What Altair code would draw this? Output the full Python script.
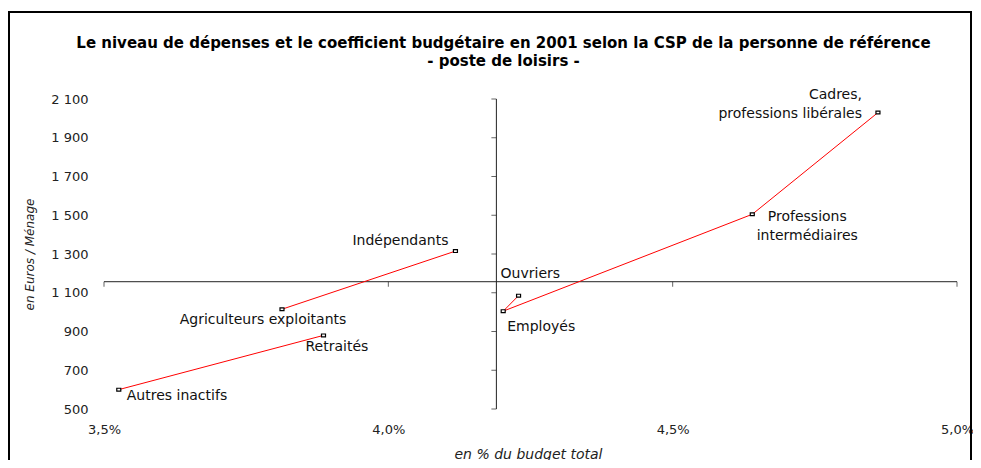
import altair as alt
import pandas as pd

# ---- data ----
categories = ["Autres inactifs", "Retraités", "Agriculteurs exploitants", "Indépendants",
              "Ouvriers", "Employés", "Professions intermédiaires", "Cadres, professions libérales"]
label_texts = ["Autres inactifs", "Retraités", "Agriculteurs exploitants", "Indépendants",
               "Ouvriers", "Employés", "Professions\nintermédiaires", "Cadres,\nprofessions libérales"]
budget_pct = [3.526, 3.886, 3.813, 4.118, 4.229, 4.202, 4.640, 4.861]
depenses = [600, 880, 1015, 1315, 1085, 1005, 1505, 2030]
series = ["a", "a", "b", "b", "c", "c", "c", "c"]
series_order = [0, 1, 0, 1, 0, 1, 2, 3]

x_ticks = [3.5, 4.0, 4.5, 5.0]
y_ticks = [500, 700, 900, 1100, 1300, 1500, 1700, 1900, 2100]
cross_x = 4.19
cross_y = 1157

title_lines = ["Le niveau de dépenses et le coefficient budgétaire en 2001 selon la CSP de la personne de référence",
               "- poste de loisirs -"]

# label placement styles (align, dx, dy) per category
label_style = [("left", 8, 6), ("left", -18, 12), ("center", -19, 11), ("right", -7, -10),
               ("left", -18, -22), ("left", 4, 16), ("center", 55, 3), ("right", -16, -18)]

FONT = "DejaVu Sans"

df = pd.DataFrame({"cat": categories, "label": label_texts, "x": budget_pct, "y": depenses,
                   "grp": series, "ord": series_order})

xs = alt.Scale(domain=[3.5, 5.0], nice=False, zero=False)
ys = alt.Scale(domain=[500, 2100], nice=False, zero=False)

x_axis = alt.Axis(
    values=x_ticks, domain=False, ticks=False, grid=False, labelFlush=False, labelOverlap=False,
    labelExpr="replace(format(datum.value, '.1f'), '.', ',') + '%'",
    labelPadding=14, labelFont=FONT, labelFontSize=13, labelColor="#222",
    title="en % du budget total", titleFont=FONT, titleFontSize=14, titleFontStyle="italic",
    titleFontWeight="normal", titleColor="#222", titleX=424, titleY=45, titleBaseline="middle")
y_axis = alt.Axis(
    values=y_ticks, domain=False, ticks=False, grid=False, labelOverlap=False, labelFlush=False,
    labelExpr="replace(format(datum.value, ','), ',', ' ')",
    labelPadding=16, labelFont=FONT, labelFontSize=13, labelColor="#222",
    title="en Euros / Ménage", titleFont=FONT, titleFontSize=12, titleFontStyle="italic",
    titleFontWeight="normal", titleColor="#222", titleX=-75, titleY=155, titleAngle=-90,
    titleBaseline="middle")

X = alt.X("x:Q", scale=xs, axis=x_axis)
Y = alt.Y("y:Q", scale=ys, axis=y_axis)

base = alt.Chart(df)

frame = alt.Chart(pd.DataFrame({"k": [0]})).mark_rect(
    fill="transparent", stroke="black", strokeWidth=2).encode(
    x=alt.value(-95), x2=alt.value(867), y=alt.value(-87), y2=alt.value(400))

vrule = alt.Chart(pd.DataFrame({"x": [cross_x], "y": [500], "y2": [2100]})).mark_rule(
    color="#222", strokeWidth=1).encode(x=X, y=Y, y2="y2:Q")
hrule = alt.Chart(pd.DataFrame({"y": [cross_y], "x": [3.5], "x2": [5.0]})).mark_rule(
    color="#222", strokeWidth=1).encode(x=X, x2="x2:Q", y=Y)
yt = alt.Chart(pd.DataFrame({"y": y_ticks, "x": [cross_x] * len(y_ticks)})).mark_tick(
    orient="horizontal", size=5, thickness=1, xOffset=-2.5, color="#222").encode(x=X, y=Y)
xt = alt.Chart(pd.DataFrame({"x": x_ticks, "y": [cross_y] * len(x_ticks)})).mark_tick(
    orient="vertical", size=5, thickness=1, yOffset=2.5, color="#222").encode(x=X, y=Y)

lines = base.mark_line(color="#ff0000", strokeWidth=1).encode(
    x=X, y=Y, detail="grp:N", order="ord:Q")
points = base.mark_point(
    shape="M-1,-0.7L1,-0.7L1,0.7L-1,0.7Z", size=16, filled=True, fill="white",
    stroke="black", strokeWidth=1.2, opacity=1).encode(x=X, y=Y)

texts = []
for i, (al, dx, dy) in enumerate(label_style):
    texts.append(alt.Chart(df.iloc[[i]]).mark_text(
        align=al, baseline="middle", dx=dx, dy=dy, font=FONT, fontSize=14, color="#111",
        lineBreak="\n", lineHeight=19).encode(x=X, y=Y, text="label:N"))

chart = alt.layer(vrule, hrule, yt, xt, lines, points, *texts, frame).properties(
    width=853, height=310,
    autosize=alt.AutoSizeParams(type="none"),
    padding={"left": 96, "top": 91, "right": 16, "bottom": 51},
    title=alt.TitleParams(text=title_lines, font=FONT, fontSize=15, fontWeight="bold",
                          color="#000", anchor="middle", frame="group", dx=-27,
                          lineHeight=18, offset=-58),
).configure(background="white").configure_view(stroke=None).configure_axis(labelOverlap=False)

chart.save("out.html", embed_options={"renderer": "svg", "actions": False})
